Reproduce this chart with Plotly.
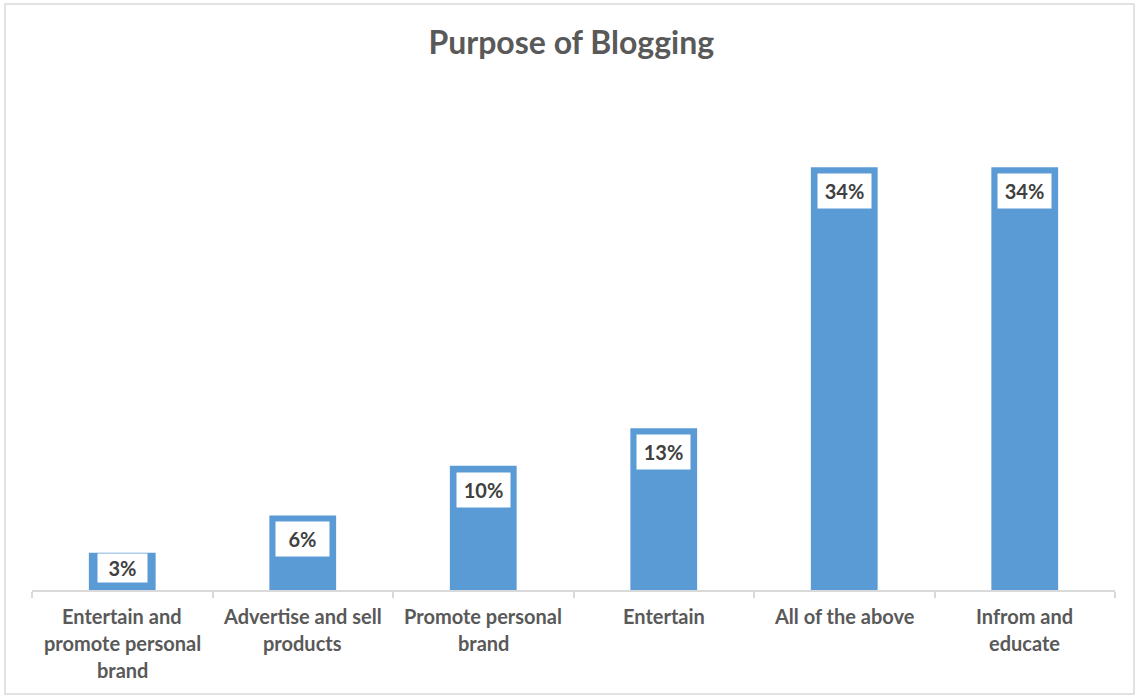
import plotly.graph_objects as go

# Survey results: why respondents blog (share of responses, %)
categories = [
    "Entertain and promote personal brand",
    "Advertise and sell products",
    "Promote personal brand",
    "Entertain",
    "All of the above",
    "Infrom and educate",
]
# Category labels as they wrap under the axis
label_lines = [
    ["Entertain and", "promote personal", "brand"],
    ["Advertise and sell", "products"],
    ["Promote personal", "brand"],
    ["Entertain"],
    ["All of the above"],
    ["Infrom and", "educate"],
]
values = [3, 6, 10, 13, 34, 34]

W, H = 1138, 698
M_L, M_R, M_T, M_B = 32, 23, 110, 108
Y_MAX = 38.6
plot_h = H - M_T - M_B
px_per_unit = plot_h / Y_MAX

BAR_COLOR = "#5B9BD5"
TEXT_COLOR = "#404040"
GRID_COLOR = "#D9D9D9"
FONT = "Lato"

fig = go.Figure(
    go.Bar(
        x=categories,
        y=values,
        marker=dict(color=BAR_COLOR, line=dict(width=0)),
        hoverinfo="skip",
    )
)

annotations = []

# Value labels in white boxes at the top of each bar
for cat, v in zip(categories, values):
    bar_px = v * px_per_unit
    if bar_px < 48:
        # short bar: box sits on the baseline inside the bar
        annotations.append(dict(
            x=cat, y=0, xref="x", yref="y",
            text=f"<b>{v}%</b>", showarrow=False,
            yanchor="bottom", yshift=7,
            font=dict(family=FONT, size=20, color=TEXT_COLOR),
            bgcolor="white", width=43, height=22, borderpad=3,
        ))
    else:
        annotations.append(dict(
            x=cat, y=v, xref="x", yref="y",
            text=f"<b>{v}%</b>", showarrow=False,
            yanchor="top", yshift=-6,
            font=dict(family=FONT, size=20, color=TEXT_COLOR),
            bgcolor="white", width=45, height=26, borderpad=4,
        ))

# Wrapped category labels below the axis
for cat, lines in zip(categories, label_lines):
    for i, line in enumerate(lines):
        annotations.append(dict(
            x=cat, y=0, xref="x", yref="y",
            text=f"<b>{line}</b>", showarrow=False,
            yanchor="middle", yshift=-(26 + 27 * i),
            font=dict(family=FONT, size=20, color="#595959"),
        ))

fig.update_layout(
    width=W, height=H,
    margin=dict(l=M_L, r=M_R, t=M_T, b=M_B),
    paper_bgcolor="white",
    plot_bgcolor="white",
    showlegend=False,
    bargap=0.63,
    title=dict(
        text="<b>Purpose of Blogging</b>",
        x=0.502, xanchor="center",
        y=1 - 43 / H, yanchor="middle",
        font=dict(family=FONT, size=32, color="#595959"),
    ),
    xaxis=dict(
        type="category",
        showticklabels=False,
        showgrid=False,
        showline=True, linecolor=GRID_COLOR, linewidth=1.5,
        ticks="outside", tickson="boundaries", ticklen=6,
        tickcolor=GRID_COLOR, tickwidth=1.5,
        zeroline=False,
    ),
    yaxis=dict(
        range=[0, Y_MAX],
        visible=False,
        showgrid=False,
        zeroline=False,
    ),
    annotations=annotations,
    shapes=[dict(
        type="rect", xref="paper", yref="paper",
        x0=-(M_L - 5) / (W - M_L - M_R), x1=1 + (M_R - 4) / (W - M_L - M_R),
        y0=-(M_B - 4) / plot_h, y1=1 + (M_T - 4) / plot_h,
        line=dict(color=GRID_COLOR, width=1.5),
        fillcolor="rgba(0,0,0,0)",
    )],
)

fig.write_html("out.html")
